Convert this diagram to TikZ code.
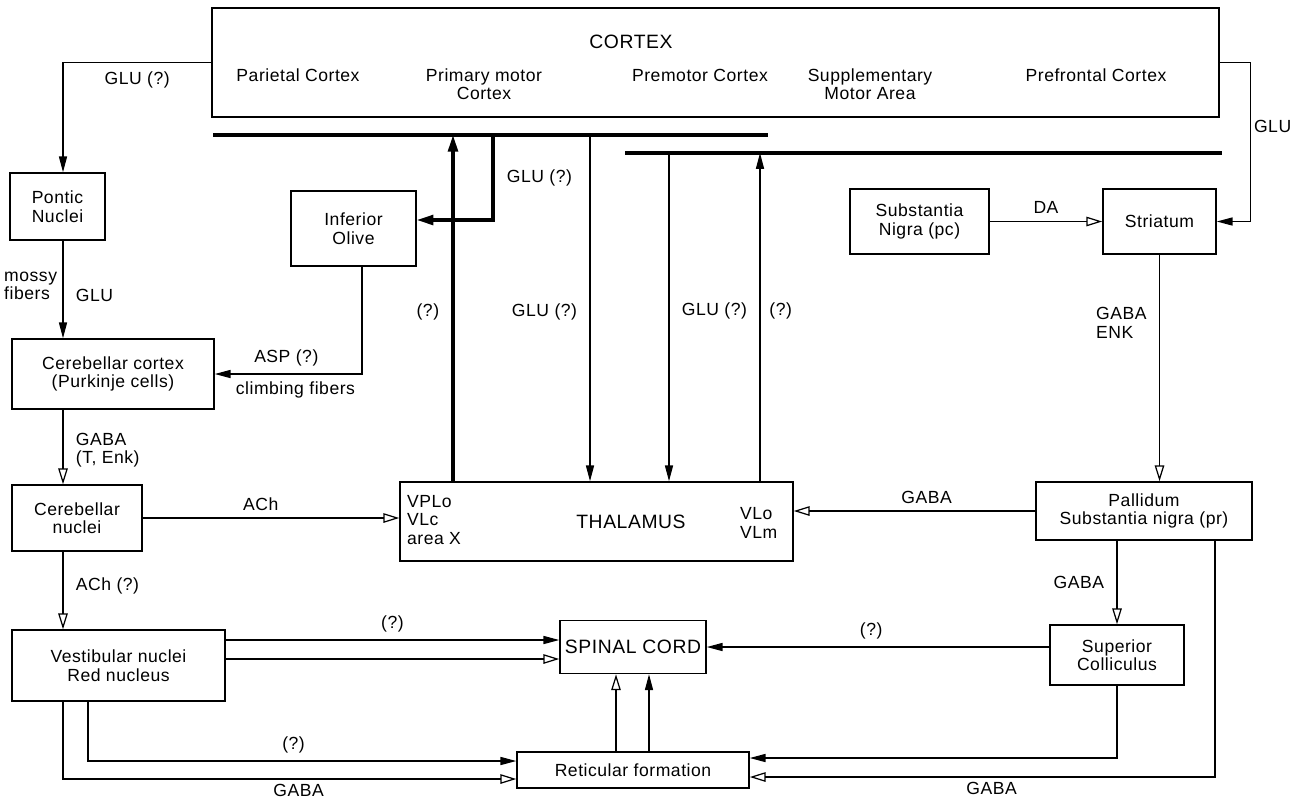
\documentclass[tikz,border=0pt]{standalone}
\usepackage{fontspec}
\setmainfont{Liberation Sans}[LetterSpace=3]
\usepackage{tikz}
\usetikzlibrary{arrows.meta, positioning, calc}

\newcommand{\diafont}{\fontsize{10}{10.5}\selectfont}
\newcommand{\bigfont}{\fontsize{11}{12}\selectfont}

\begin{document}
\begin{tikzpicture}[
    x=0.02cm,
    y=-0.02cm,
    block/.style={rectangle, draw, line width=0.9pt, align=center,
                  inner sep=0pt, font=\diafont},
    txt/.style={font=\diafont, align=center, inner sep=1pt},
    big/.style={font=\bigfont, inner sep=1pt},
    arrow/.style={-{Triangle[length=9pt, width=4.6pt]}, line width=0.7pt},
    oarrow/.style={-{Triangle[open, length=9pt, width=5.4pt]}, line width=0.7pt},
    tarrow/.style={-{Triangle[length=9.5pt, width=5.6pt]}, line width=1.8pt},
    bar/.style={line width=1.8pt},
    lbl/.style={font=\diafont, inner sep=1pt, align=left},
]
\useasboundingbox (0,0) rectangle (1291,799);

% boxes
\node[block, minimum width=20.14cm, minimum height=2.18cm] (ctx) at (715.5,62.5) {};
\node[big]  (ctxtitle)   at (631,42)  {CORTEX};
\node[txt]  (parietal)   at (298,75)  {Parietal Cortex};
\node[txt]  (primary)    at (484,84)  {Primary motor\\Cortex};
\node[txt]  (premotor)   at (700,75)  {Premotor Cortex};
\node[txt]  (supp)       at (870,84)  {Supplementary\\Motor Area};
\node[txt]  (prefrontal) at (1096,75) {Prefrontal Cortex};

\node[block, minimum width=1.90cm, minimum height=1.34cm] (pontic)   at (57.5,206.5)  {Pontic\\Nuclei};
\node[block, minimum width=2.50cm, minimum height=1.50cm] (olive)    at (353.5,228.5) {Inferior\\Olive};
\node[block, minimum width=2.78cm, minimum height=1.30cm] (sngc)     at (919.5,221.5) {Substantia\\Nigra (pc)};
\node[block, minimum width=2.26cm, minimum height=1.30cm] (striatum) at (1159.5,221.5) {Striatum};
\node[block, minimum width=4.04cm, minimum height=1.40cm] (cbcortex) at (113,374)     {Cerebellar cortex\\(Purkinje cells)};
\node[block, minimum width=2.60cm, minimum height=1.32cm] (cbnuclei) at (77,518)      {Cerebellar\\nuclei};
\node[block, minimum width=7.86cm, minimum height=1.58cm] (thal)     at (596.5,521.5) {};
\node[lbl, anchor=west] (thalL) at (405,520) {VPLo\\VLc\\area X};
\node[big] (thaltitle) at (631,522) {THALAMUS};
\node[lbl, anchor=west] (thalR) at (738,523) {VLo\\VLm};
\node[block, minimum width=4.32cm, minimum height=1.16cm] (pallidum) at (1144,511)    {Pallidum\\Substantia nigra (pr)};
\node[block, minimum width=4.26cm, minimum height=1.42cm] (vest)     at (118.5,665.5) {Vestibular nuclei\\Red nucleus};
\node[block, minimum width=2.92cm, minimum height=1.06cm, font=\bigfont] (spinal) at (633,647) {SPINAL CORD};
\node[block, minimum width=2.68cm, minimum height=1.20cm] (supcol)   at (1117,655)    {Superior\\Colliculus};
\node[block, minimum width=4.64cm, minimum height=0.72cm] (retic)    at (633,770)     {Reticular formation};

% thick bars under the cortex
\coordinate (b1w) at (213,135);
\coordinate (b1e) at (768,135);
\coordinate (b2w) at (625,153);
\coordinate (b2e) at (1222,153);
\draw[bar] (b1w) -- (b1e);
\draw[bar] (b2w) -- (b2e);

\coordinate (lcol) at (63,0);
\coordinate (tapA) at (453,135);
\coordinate (tapB) at (493,135);
\coordinate (tapC) at (590,135);
\coordinate (tapD) at (669,153);
\coordinate (tapE) at (760,153);

% cerebellar side
\draw[arrow] (ctx.west) -| node[pos=0.25, below=4pt, lbl] {GLU (?)} (lcol |- pontic.north);
\draw[arrow] (lcol |- pontic.south) --
    node[pos=0.56, right=6pt, lbl] {GLU}
    node[pos=0.46, left=2pt, lbl] {mossy\\fibers} (lcol |- cbcortex.north);
\draw[oarrow] (lcol |- cbcortex.south) -- node[pos=0.54, right=6pt, lbl] {GABA\\(T, Enk)}
    (lcol |- cbnuclei.north);
\draw[oarrow] (lcol |- cbnuclei.south) -- node[pos=0.44, right=6pt, lbl] {ACh (?)}
    (lcol |- vest.north);
\draw[arrow] ($(olive.south)+(8.5,0)$) |-
    node[pos=0.757, above=3pt, lbl] {ASP (?)}
    node[pos=0.726, below=3pt, lbl] {climbing fibers} (cbcortex.east);
\draw[tarrow] (tapB) |- node[pos=0.25, right=6pt, lbl] {GLU (?)}
    ($(olive.east)+(0,-8.5)$);

% cortex <-> thalamus
\draw[tarrow] (tapA |- thal.north) -- node[pos=0.49, left=6pt, lbl] {(?)} (tapA);
\draw[arrow] (tapC) -- node[pos=0.51, left=6pt, lbl] {GLU (?)} (tapC |- thal.north);
\draw[arrow] (tapD) -- node[pos=0.48, right=6pt, lbl] {GLU (?)} (tapD |- thal.north);
\draw[arrow] (tapE |- thal.north) -- node[pos=0.52, right=4pt, lbl] {(?)} (tapE);
\draw[oarrow] (cbnuclei.east) -- node[pos=0.46, above=3pt, lbl] {ACh}
    (cbnuclei.east -| thal.west);

% basal ganglia
\draw[oarrow] (sngc.east) -- node[above=3pt, lbl] {DA} (striatum.west);
\draw[arrow] (ctx.east) -| node[pos=0.7, right=0.5pt, lbl] {GLU}
    ($(striatum.east)+(34,0)$) -- (striatum.east);
\draw[oarrow] (striatum.south) -- node[pos=0.3, left=6pt, lbl] {GABA\\ENK}
    (striatum.south |- pallidum.north);
\draw[oarrow] (pallidum.west) -- node[pos=0.45, above=3pt, lbl] {GABA}
    (pallidum.west -| thal.east);
\draw[oarrow] (supcol.north |- pallidum.south) -- node[pos=0.5, left=6pt, lbl] {GABA}
    (supcol.north);

% descending paths
\coordinate (sW1) at ($(spinal.west)+(0,-7)$);
\coordinate (sW2) at ($(spinal.west)+(0,12)$);
\coordinate (rW1) at ($(retic.west)+(0,-9)$);
\coordinate (rW2) at ($(retic.west)+(0,9)$);
\coordinate (rE1) at ($(retic.east)+(0,-12)$);
\coordinate (rE2) at ($(retic.east)+(0,7)$);
\coordinate (rN1) at ($(retic.north)+(-17,0)$);
\coordinate (rN2) at ($(retic.north)+(16,0)$);

\draw[arrow] (supcol.west |- spinal.east) -- node[pos=0.52, above=3pt, lbl] {(?)}
    (spinal.east);
\draw[arrow] (supcol.south) |- (rE1);
\draw[oarrow] ($(pallidum.south)+(71,0)$) |- node[pos=0.74, below=1.5pt, lbl] {GABA} (rE2);
\draw[arrow] (vest.east |- sW1) -- node[above=3pt, lbl] {(?)} (sW1);
\draw[oarrow] (vest.east |- sW2) -- (sW2);
\draw[arrow] ($(vest.south)+(-30.5,0)$) |- node[pos=0.74, above=3pt, lbl] {(?)} (rW1);
\draw[oarrow] (lcol |- vest.south) |- node[pos=0.76, below=1.5pt, lbl] {GABA} (rW2);
\draw[oarrow] (rN1) -- (rN1 |- spinal.south);
\draw[arrow] (rN2) -- (rN2 |- spinal.south);
\end{tikzpicture}
\end{document}
